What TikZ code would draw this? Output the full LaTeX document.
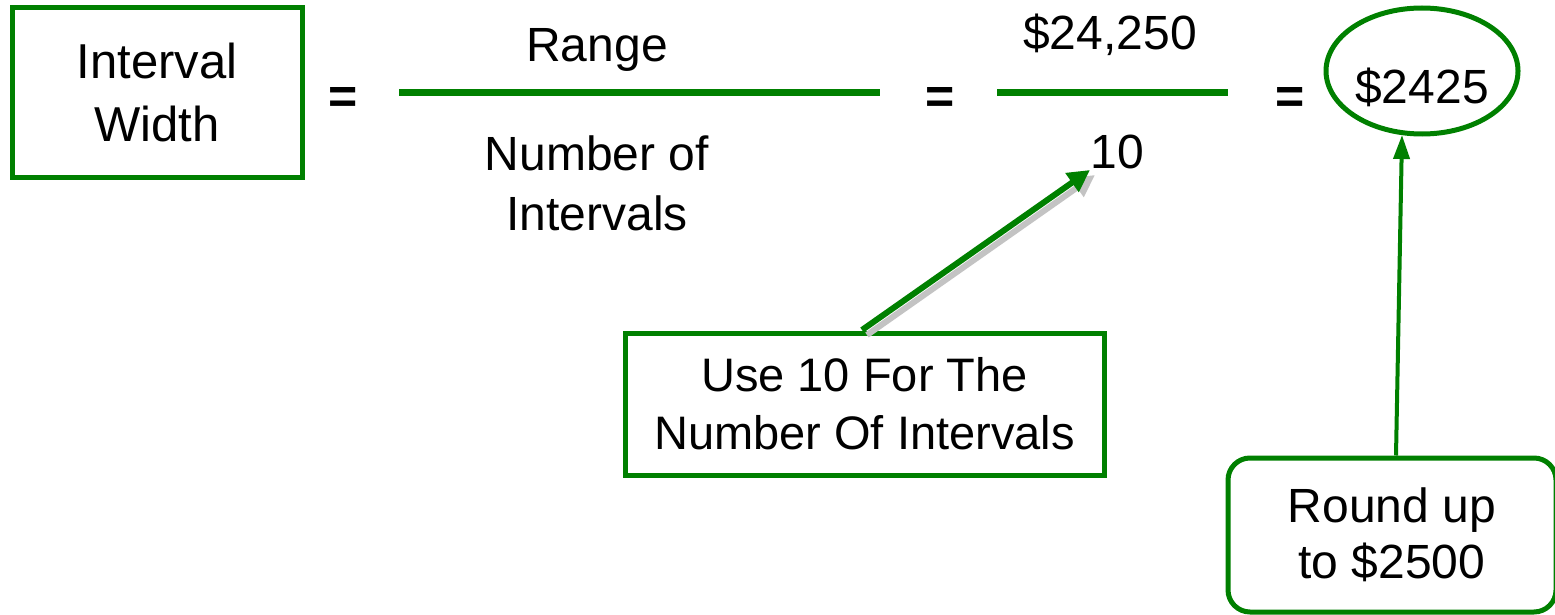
\documentclass[tikz,border=0pt]{standalone}
\usepackage{fontspec}
\setmainfont{Liberation Sans}
\usetikzlibrary{arrows.meta,shapes.geometric,calc}
\definecolor{dgreen}{RGB}{0,128,0}
\definecolor{shade}{RGB}{195,195,195}
\begin{document}
\begin{tikzpicture}[x=1pt,y=-1pt,
  txt/.style={font=\fontsize{48}{60}\selectfont, inner sep=0pt, align=center},
  eqs/.style={font=\fontsize{50}{56}\selectfont\bfseries, inner sep=0pt},
  gbox/.style={draw=dgreen, line width=5pt, inner sep=0pt, align=center, font=\fontsize{48}{60}\selectfont},
  fracline/.style={draw=dgreen, line width=7pt},
]
\useasboundingbox (0,0) rectangle (1555,615);
% Interval width box
\node[gbox, minimum width=290pt, minimum height=169pt, font=\fontsize{49}{63}\selectfont] (iw) at (157,92.5) {Interval\\Width};
\node[eqs] (eq1) at (343,100) {=};
% first fraction
\coordinate (l1a) at (399,93);
\coordinate (l1b) at (880,93);
\draw[fracline] (l1a) -- (l1b);
\node[txt, anchor=base] (range) at (597,62) {Range};
\node[txt] (noi) at (597,183) {Number of\\Intervals};
\node[eqs] (eq2) at (940,100) {=};
% second fraction
\coordinate (l2a) at (997,93);
\coordinate (l2b) at (1228,93);
\draw[fracline] (l2a) -- (l2b);
\node[txt, anchor=base] (num) at (1110,50) {\$24,250};
\node[txt, anchor=base] (ten) at (1117,168) {10};
\node[eqs] (eq3) at (1290,100) {=};
% ellipse
\node[draw=dgreen, line width=5pt, ellipse, minimum width=192pt, minimum height=126pt, inner sep=0pt] (res) at (1422,71) {};
\node[txt, anchor=base] (restxt) at (1422,104) {\$2425};
% Use 10 box
\node[gbox, minimum width=479pt, minimum height=142pt, font=\fontsize{47}{58}\selectfont] (use) at (864.5,404) {Use 10 For The\\Number Of Intervals};
% Round up box
\node[gbox, rounded corners=22pt, minimum width=328pt, minimum height=154pt, font=\fontsize{48}{56}\selectfont] (round) at (1392,535) {Round up\\to \$2500};
% arrows
\coordinate (tenpt) at (1090,170);
\coordinate (usept) at (862,330);
\draw[draw=shade, fill=shade, line width=6pt, -{Triangle[length=22pt,width=22pt]}] ($(usept)+(5,5)$) -- ($(tenpt)+(5,5)$);
\draw[draw=dgreen, fill=dgreen, line width=6pt, -{Triangle[length=22pt,width=22pt]}] (usept) -- (tenpt);
\coordinate (rstart) at ($(round.north)+(4,0)$);
\coordinate (rend) at ($(res.south)+(-20,-1.5)$);
\draw[draw=dgreen, fill=dgreen, line width=4pt, -{Triangle[length=24pt,width=16pt]}] (rstart) -- (rend);
\end{tikzpicture}
\end{document}
